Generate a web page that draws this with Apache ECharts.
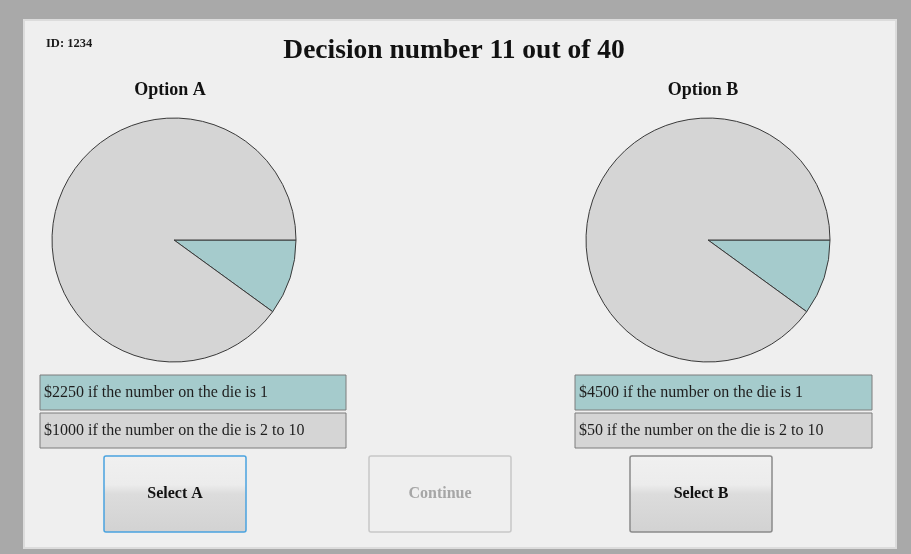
<!DOCTYPE html>
<html lang="en">
  <head>
    <meta charset="UTF-8" />
    <title>Decision number 11 out of 40</title>
    <script src="https://cdn.jsdelivr.net/npm/echarts@6.0.0/dist/echarts.min.js"></script>
    <style>
      html, body { margin: 0; padding: 0; background: #a9a9a9; }
      #chart { width: 911px; height: 554px; }
    </style>
  </head>
  <body>
    <div id="chart"></div>
  </body>
</html>
<script>
  // 数据
  const optionNames = ["Option A", "Option B"];
  const outcomeLabels = ["if the number on the die is 1", "if the number on the die is 2 to 10"];
  const payoffA = [2250, 1000];
  const payoffB = [4500, 50];
  const dieCounts = [1, 9]; // 1 face vs 9 faces
  const buttonLabels = ["Select A", "Continue", "Select B"];
  const decisionNo = 11;
  const decisionTotal = 40;
  const subjectId = "1234";

  const serif = "'Liberation Serif', 'DejaVu Serif', serif";
  const sliceColors = ["#a5cbcc", "#d5d5d5"];

  const chart = echarts.init(document.getElementById("chart"));

  function pieSeries(cx, payoffs) {
    return {
      type: "pie",
      center: [cx, 240],
      radius: 122,
      startAngle: 0,
      clockwise: true,
      silent: true,
      label: { show: false },
      labelLine: { show: false },
      itemStyle: { borderColor: "#3a3a3a", borderWidth: 1 },
      data: dieCounts.map((v, i) => ({
        value: v,
        name: "$" + payoffs[i],
        itemStyle: { color: sliceColors[i] },
      })),
    };
  }

  function outcomeBoxes(x, w, payoffs) {
    return payoffs.map((p, i) => ({
      type: "group",
      children: [
        {
          type: "rect",
          shape: { x: x, y: 375 + i * 38, width: w, height: 35 },
          style: { fill: sliceColors[i], stroke: "#7c7c7c", lineWidth: 1 },
        },
        {
          type: "text",
          x: x + 4,
          y: 375 + i * 38 + 18,
          style: {
            text: "$" + p + " " + outcomeLabels[i],
            font: "16px " + serif,
            fill: "#1e1e1e",
            verticalAlign: "middle",
          },
        },
      ],
    }));
  }

  const btnGrad = () =>
    new echarts.graphic.LinearGradient(0, 0, 0, 1, [
      { offset: 0, color: "#f0f0f0" },
      { offset: 0.38, color: "#ececec" },
      { offset: 0.5, color: "#dcdcdc" },
      { offset: 1, color: "#d2d2d2" },
    ]);

  function button(x, label, stroke, textColor, fill) {
    return {
      type: "group",
      children: [
        {
          type: "rect",
          shape: { x: x, y: 456, width: 142, height: 76, r: 2 },
          style: { fill: fill, stroke: stroke, lineWidth: 1.5 },
        },
        {
          type: "text",
          x: x + 71,
          y: 494,
          style: {
            text: label,
            font: "bold 16px " + serif,
            fill: textColor,
            align: "center",
            verticalAlign: "middle",
          },
        },
      ],
    };
  }

  const option = {
    animation: false,
    backgroundColor: "#a9a9a9",
    graphic: [
      {
        type: "rect",
        z: -10,
        shape: { x: 24, y: 20, width: 872, height: 528 },
        style: { fill: "#efefef", stroke: "#dcdcdc", lineWidth: 2 },
      },
      {
        type: "text",
        x: 46,
        y: 44,
        style: { text: "ID: " + subjectId, font: "bold 12.5px " + serif, fill: "#1a1a1a", verticalAlign: "middle" },
      },
      {
        type: "text",
        x: 454,
        y: 51,
        style: {
          text: "Decision number " + decisionNo + " out of " + decisionTotal,
          font: "bold 27.5px " + serif,
          fill: "#111",
          align: "center",
          verticalAlign: "middle",
        },
      },
      {
        type: "text",
        x: 170,
        y: 90,
        style: { text: optionNames[0], font: "bold 18px " + serif, fill: "#111", align: "center", verticalAlign: "middle" },
      },
      {
        type: "text",
        x: 703,
        y: 90,
        style: { text: optionNames[1], font: "bold 18px " + serif, fill: "#111", align: "center", verticalAlign: "middle" },
      },
      ...outcomeBoxes(40, 306, payoffA),
      ...outcomeBoxes(575, 297, payoffB),
      button(104, buttonLabels[0], "#4aa3df", "#111", btnGrad()),
      button(369, buttonLabels[1], "#c8c8c8", "#a6a6a6", "#efefef"),
      button(630, buttonLabels[2], "#8a8a8a", "#111", btnGrad()),
    ],
    series: [pieSeries(174, payoffA), pieSeries(708, payoffB)],
  };
  chart.setOption(option);
</script>
